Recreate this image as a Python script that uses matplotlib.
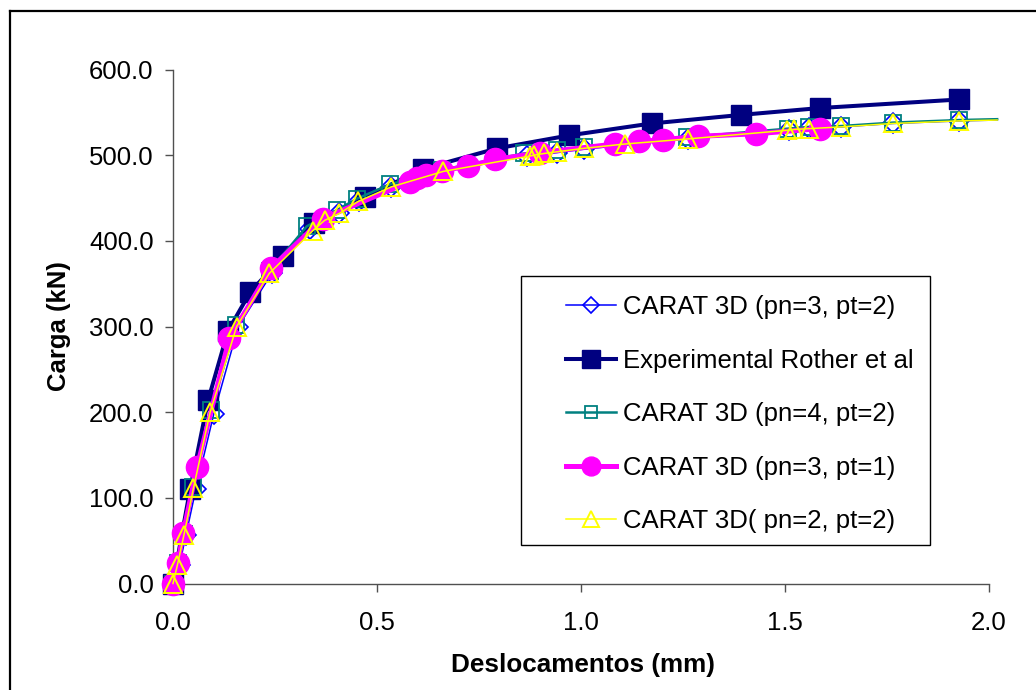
import matplotlib
matplotlib.use("Agg")
import matplotlib.pyplot as plt
from matplotlib.lines import Line2D
from matplotlib.patches import Rectangle

plt.rcParams['font.family'] = ['Liberation Sans', 'DejaVu Sans']

# ---- data ----
exp_x = [0, 0.042, 0.086, 0.135, 0.189, 0.27, 0.345, 0.47, 0.613, 0.795, 0.970, 1.173, 1.392, 1.585, 1.927]
exp_y = [0, 110, 214, 295, 340, 382, 421, 451, 484, 508, 523, 537, 547, 555, 565]

p31_x = [0, 0.012, 0.025, 0.059, 0.138, 0.24, 0.367, 0.58, 0.599, 0.62, 0.66, 0.722, 0.79, 0.90,
         1.083, 1.143, 1.20, 1.287, 1.43, 1.585]
p31_y = [0, 24, 59, 136, 286, 368, 426, 469, 473, 477, 482, 487, 495, 503,
         513, 516, 518, 522, 525, 531]

p32_x = [0, 0.016, 0.032, 0.056, 0.10, 0.16, 0.242, 0.335, 0.408, 0.456, 0.535, 0.662, 0.867, 0.942,
         1.007, 1.263, 1.51, 1.56, 1.637, 1.765, 1.927, 2.02]
p32_y = [0, 22, 57, 110, 198, 300, 362, 414, 433, 446, 463, 481, 499, 503,
         507, 519, 529, 532, 533, 537, 540, 541]

p42_x = [0, 0.012, 0.028, 0.05, 0.093, 0.155, 0.237, 0.328, 0.402, 0.45, 0.532, 0.66, 0.86, 0.94,
         1.007, 1.26, 1.508, 1.558, 1.637, 1.765, 1.927, 2.02]
p42_y = [0, 24, 58, 113, 203, 302, 365, 417, 436, 449, 466, 483, 502, 506,
         509, 521, 531, 533, 534, 538, 541, 542]

p22_x = [0, 0.011, 0.027, 0.05, 0.091, 0.156, 0.236, 0.343, 0.372, 0.408, 0.454, 0.535, 0.662, 0.875,
         0.885, 0.91, 0.942, 1.007, 1.107, 1.263, 1.505, 1.522, 1.56, 1.637, 1.765, 1.927, 2.02]
p22_y = [0, 22, 57, 111, 200, 300, 362, 412, 424, 432, 446, 463, 481, 499,
         500, 502, 504, 508, 513, 519, 529, 530, 531, 533, 537, 540, 541]

labels = ["CARAT 3D (pn=3, pt=2)", "Experimental Rother et al", "CARAT 3D (pn=4, pt=2)",
          "CARAT 3D (pn=3, pt=1)", "CARAT 3D( pn=2, pt=2)"]
x_ticks = [0.0, 0.5, 1.0, 1.5, 2.0]
y_ticks = [0, 100, 200, 300, 400, 500, 600]

FS = 18.5

# ---- figure ----
fig = plt.figure(figsize=(10.36, 6.9), dpi=100)
ax = fig.add_axes([173 / 1036, 1 - 583.5 / 690, (989 - 173) / 1036, (583.5 - 69.5) / 690])

def last_excluded(n):
    return list(range(n - 1))

l1, = ax.plot(p32_x, p32_y, color='#0000FF', lw=1.1, marker='D', ms=10, mfc='none',
              mec='#0000FF', mew=1.2, markevery=last_excluded(len(p32_x)), clip_on=False, zorder=3)
l2, = ax.plot(exp_x, exp_y, color='#000080', lw=2.9, marker='s', ms=15, mfc='#000080',
              mec='#000080', clip_on=False, zorder=4)
l3, = ax.plot(p42_x, p42_y, color='#008080', lw=1.8, marker='s', ms=11, mfc='none',
              mec='#008080', mew=1.3, markevery=last_excluded(len(p42_x)), clip_on=False, zorder=5)
l4, = ax.plot(p31_x, p31_y, color='#FF00FF', lw=3.6, marker='o', ms=16, mfc='#FF00FF',
              mec='#FF00FF', clip_on=False, zorder=6)
l5, = ax.plot(p22_x, p22_y, color='#FFFF00', lw=1.1, marker='^', ms=13, mfc='none',
              mec='#FFFF00', mew=1.4, markevery=last_excluded(len(p22_x)), clip_on=False, zorder=7)

ax.set_xlim(0, 2.0)
ax.set_ylim(0, 600)
ax.set_xticks(x_ticks)
ax.set_yticks(y_ticks)
ax.set_xticklabels([f"{v:.1f}" for v in x_ticks])
ax.set_yticklabels([f"{v:.1f}" for v in y_ticks])

for s in ['top', 'right']:
    ax.spines[s].set_visible(False)
for s in ['left', 'bottom']:
    ax.spines[s].set_color('#505050')
    ax.spines[s].set_linewidth(1.0)
ax.tick_params(axis='both', direction='out', length=6, width=1.0, color='#505050',
               labelsize=FS, labelcolor='black')
ax.tick_params(axis='y', pad=8)
ax.tick_params(axis='x', pad=14)

ax.set_xlabel("Deslocamentos (mm)", fontsize=18.8, fontweight='bold')
ax.set_ylabel("Carga (kN)", fontsize=FS, fontweight='bold')
ax.xaxis.set_label_coords(0.5025, -0.1586)
ax.yaxis.set_label_coords(-0.1397, 0.5)
ax.xaxis.label.set_va('center')
ax.yaxis.label.set_va('center')

# legend box
box = Rectangle((0.4265, 0.0749), 0.5012, 0.5233, transform=ax.transAxes, facecolor='white',
                edgecolor='black', lw=1.0, zorder=9, clip_on=False)
ax.add_patch(box)
leg = ax.legend([l1, l2, l3, l4, l5], labels, loc='upper left',
                bbox_to_anchor=(0.4816, 0.561), fontsize=FS, frameon=False,
                handlelength=1.95, labelspacing=1.15, markerscale=0.85,
                handletextpad=0.27, borderpad=0, borderaxespad=0)
leg.set_zorder(10)

# outer chart frame (left and top edges visible)
fig.add_artist(Line2D([10 / 1036, 10 / 1036], [0, 1 - 11 / 690], color='black', lw=1.6,
                      transform=fig.transFigure))
fig.add_artist(Line2D([10 / 1036, 1], [1 - 11 / 690, 1 - 11 / 690], color='black', lw=1.6,
                      transform=fig.transFigure))

fig.savefig("out.png", dpi=100)
